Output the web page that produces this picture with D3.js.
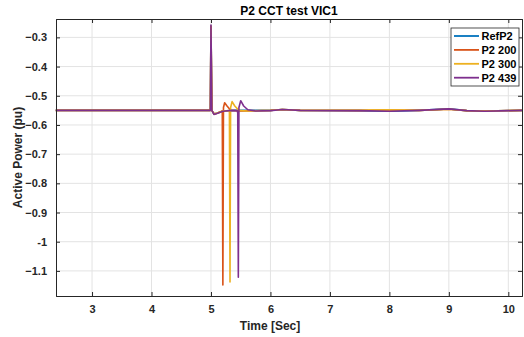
<!DOCTYPE html>
<html>
<head>
<meta charset="utf-8">
<script src="https://cdn.jsdelivr.net/npm/d3@7"></script>
<style>
  body { margin: 0; background: #fff; }
  svg { display: block; font-family: "Liberation Sans", Arial, sans-serif; }
</style>
</head>
<body>
<script>
// Series: [time, active power]
let refP2 = [
  [2.39, -0.55], [4.99, -0.55], [5.0, -0.262], [5.015, -0.55], [5.05, -0.562], [5.1, -0.56],
  [5.2, -0.552], [5.4, -0.55], [6.0, -0.55], [6.2, -0.547], [6.5, -0.55], [7.5, -0.551],
  [8.0, -0.553], [8.5, -0.55], [9.0, -0.545], [9.3, -0.551], [9.6, -0.552], [10.23, -0.55]
];
let p2_200 = [
  [2.39, -0.55], [4.99, -0.55], [5.0, -0.262], [5.015, -0.55], [5.05, -0.562], [5.1, -0.56],
  [5.19, -0.552], [5.2, -1.148], [5.21, -0.54], [5.23, -0.524], [5.27, -0.535], [5.33, -0.55],
  [5.5, -0.552], [6.0, -0.55], [6.2, -0.547], [6.5, -0.55], [7.5, -0.551], [8.0, -0.549],
  [8.5, -0.55], [9.0, -0.546], [9.3, -0.551], [9.6, -0.552], [10.23, -0.55]
];
let p2_300 = [
  [2.39, -0.55], [4.99, -0.55], [5.0, -0.262], [5.015, -0.55], [5.05, -0.562], [5.1, -0.56],
  [5.2, -0.552], [5.31, -0.551], [5.32, -1.138], [5.33, -0.54], [5.355, -0.52], [5.4, -0.535],
  [5.47, -0.55], [5.6, -0.552], [6.0, -0.55], [6.2, -0.547], [6.5, -0.55], [7.5, -0.549],
  [8.0, -0.548], [8.5, -0.55], [9.0, -0.546], [9.3, -0.551], [9.6, -0.552], [10.23, -0.55]
];
let p2_439 = [
  [2.39, -0.55], [4.99, -0.55], [5.0, -0.258], [5.015, -0.55], [5.05, -0.564], [5.1, -0.561],
  [5.2, -0.553], [5.35, -0.55], [5.44, -0.551], [5.45, -0.558], [5.46, -1.122], [5.47, -0.54],
  [5.5, -0.517], [5.55, -0.535], [5.62, -0.548], [5.75, -0.552], [6.0, -0.551], [6.2, -0.547],
  [6.5, -0.55], [7.5, -0.551], [8.0, -0.553], [8.5, -0.55], [9.0, -0.545], [9.3, -0.551],
  [9.6, -0.553], [10.23, -0.55]
];

let seriesNames = ['RefP2', 'P2 200', 'P2 300', 'P2 439'];
let seriesData = [refP2, p2_200, p2_300, p2_439];
let colors = ['#0072BD', '#D95319', '#EDB120', '#7E2F8E'];

let xTicks = [3, 4, 5, 6, 7, 8, 9, 10];
let yTicks = [-0.3, -0.4, -0.5, -0.6, -0.7, -0.8, -0.9, -1.0, -1.1];

// Setup SVG
let width = 524, height = 337;
let margin = {top: 19, right: 2, bottom: 41, left: 56};
let w = width - margin.left - margin.right,
    h = height - margin.top - margin.bottom;

let svg = d3.select('body').append('svg')
    .attr('width', width)
    .attr('height', height);

let g = svg.append('g')
    .attr('transform', `translate(${margin.left},${margin.top})`);

let x = d3.scaleLinear().domain([2.394, 10.23]).range([0, w]);
let y = d3.scaleLinear().domain([-1.186, -0.237]).range([h, 0]);

let axisColor = '#262626';

// grid
g.selectAll('.xgrid').data(xTicks).enter().append('line')
    .attr('x1', d => x(d)).attr('x2', d => x(d))
    .attr('y1', 0).attr('y2', h)
    .style('stroke', '#e3e3e3').style('stroke-width', 1);
g.selectAll('.ygrid').data(yTicks).enter().append('line')
    .attr('x1', 0).attr('x2', w)
    .attr('y1', d => y(d)).attr('y2', d => y(d))
    .style('stroke', '#e3e3e3').style('stroke-width', 1);

// lines
let line = d3.line().x(d => x(d[0])).y(d => y(d[1]));
let plot = g.append('g');
seriesData.forEach((s, i) => {
    plot.append('path')
        .datum(s)
        .attr('d', line)
        .style('fill', 'none')
        .style('stroke', colors[i])
        .style('stroke-width', 1.6)
        .style('stroke-linejoin', 'round');
});

// axes (ticks inward, on all sides)
let fmtY = d => d === -1 ? '-1' : d3.format('.1f')(d);
let tickLen = 4;

let xAxis = g.append('g').attr('transform', `translate(0,${h})`)
    .call(d3.axisBottom(x).tickValues(xTicks).tickSize(-tickLen).tickPadding(9).tickFormat(d3.format('d')));
let yAxis = g.append('g')
    .call(d3.axisLeft(y).tickValues(yTicks).tickSize(-tickLen).tickPadding(9).tickFormat(fmtY));
let xTop = g.append('g')
    .call(d3.axisTop(x).tickValues(xTicks).tickSize(-tickLen).tickFormat(''));
let yRight = g.append('g').attr('transform', `translate(${w},0)`)
    .call(d3.axisRight(y).tickValues(yTicks).tickSize(-tickLen).tickFormat(''));

[xAxis, yAxis, xTop, yRight].forEach(a => {
    a.select('.domain').style('stroke', axisColor).style('stroke-width', 1);
    a.selectAll('.tick line').style('stroke', axisColor);
    a.selectAll('text')
        .style('fill', axisColor)
        .style('font-size', '11px')
        .style('font-weight', 'bold');
});

// title and labels
svg.append('text')
    .attr('x', margin.left + w / 2).attr('y', 15)
    .attr('text-anchor', 'middle')
    .style('font-size', '12px').style('font-weight', 'bold').style('fill', '#000')
    .text('P2 CCT test VIC1');

svg.append('text')
    .attr('x', margin.left + w / 2 - 19).attr('y', 330)
    .attr('text-anchor', 'middle')
    .style('font-size', '12px').style('font-weight', 'bold').style('fill', axisColor)
    .text('Time [Sec]');

svg.append('text')
    .attr('transform', `translate(22,${margin.top + h / 2}) rotate(-90)`)
    .attr('text-anchor', 'middle')
    .style('font-size', '12px').style('font-weight', 'bold').style('fill', axisColor)
    .text('Active Power (pu)');

// legend
let lg = svg.append('g').attr('transform', 'translate(451,28)');
lg.append('rect')
    .attr('width', 68).attr('height', 58)
    .style('fill', '#fff').style('stroke', axisColor).style('stroke-width', 0.8);
seriesNames.forEach((name, i) => {
    let yy = 8 + i * 13.9;
    lg.append('line')
        .attr('x1', 3).attr('x2', 28).attr('y1', yy).attr('y2', yy)
        .style('stroke', colors[i]).style('stroke-width', 1.8);
    lg.append('text')
        .attr('x', 30.5).attr('y', yy + 4)
        .style('font-size', '11px').style('font-weight', 'bold').style('fill', '#000')
        .text(name);
});
</script>
</body>
</html>
